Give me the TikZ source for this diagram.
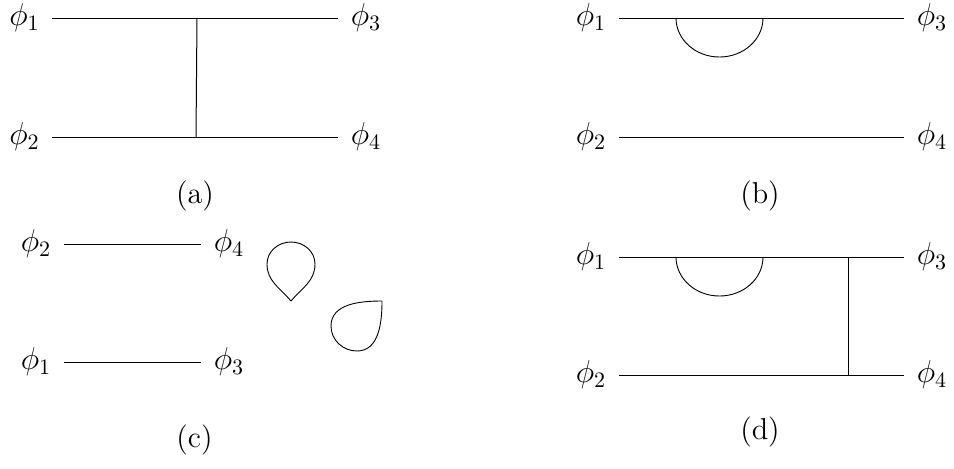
\documentclass[tikz,border=0pt]{standalone}
\usepackage{amsmath,amssymb}
\usepackage{tikz}
\usetikzlibrary{calc}

\begin{document}
\begin{tikzpicture}[x=0.5pt,y=0.5pt,font=\Large,line width=0.5pt,
    fld/.style={scale=1.1,inner sep=3.2pt,outer sep=2.5pt},
    subcap/.style={scale=1.05,inner sep=2pt},
    loopline/.style={line width=0.45pt}]
  \useasboundingbox (0,0) rectangle (954,-468);
  % (a)
  \node[fld] (a1) at (24.5,-18) {$\phi_1$};
  \node[fld] (a3) at (366,-18) {$\phi_3$};
  \node[fld] (a2) at (24.5,-137) {$\phi_2$};
  \node[fld] (a4) at (366,-137) {$\phi_4$};
  \draw (a1) -- (a3);
  \draw (a2) -- (a4);
  \coordinate (atop) at (197,-18);
  \coordinate (abot) at (196,-137);
  \draw (atop) -- (abot);
  \node[subcap] (capa) at (195,-196) {(a)};
  % (b)
  \node[fld] (b1) at (591,-18) {$\phi_1$};
  \node[fld] (b3) at (932,-18) {$\phi_3$};
  \node[fld] (b2) at (591,-137) {$\phi_2$};
  \node[fld] (b4) at (932,-137) {$\phi_4$};
  \draw (b1) -- (b3);
  \draw (b2) -- (b4);
  \coordinate (bself) at (676,-18);
  \draw[loopline] (bself) arc[start angle=180,end angle=360,x radius=21.75pt,y radius=19.5pt];
  \node[subcap] (capb) at (760,-196) {(b)};
  % (c)
  \node[fld] (c2) at (36,-244) {$\phi_2$};
  \node[fld] (c4) at (229,-244) {$\phi_4$};
  \node[fld] (c1) at (36,-362) {$\phi_1$};
  \node[fld] (c3) at (229,-362) {$\phi_3$};
  \draw (c2) -- (c4);
  \draw (c1) -- (c3);
  \coordinate (vac1) at (291,-301);
  \coordinate (vac2) at (382,-301);
  \draw[loopline] (vac1) to[out=130,in=270] (267,-264) to[out=90,in=180] (291,-242)
    to[out=0,in=90] (315,-264) to[out=270,in=50] (vac1);
  \draw[loopline] (vac2) to[out=180,in=90] (331,-326) to[out=270,in=180] (357,-351)
    to[out=0,in=270] (vac2);
  \node[subcap] (capc) at (194.5,-440) {(c)};
  % (d)
  \node[fld] (d1) at (591,-257) {$\phi_1$};
  \node[fld] (d3) at (932,-257) {$\phi_3$};
  \node[fld] (d2) at (591,-375) {$\phi_2$};
  \node[fld] (d4) at (932,-375) {$\phi_4$};
  \draw (d1) -- (d3);
  \draw (d2) -- (d4);
  \coordinate (dself) at (676,-257);
  \draw[loopline] (dself) arc[start angle=180,end angle=360,x radius=21.75pt,y radius=19.5pt];
  \coordinate (dtop) at (848,-257);
  \coordinate (dbot) at (848,-375);
  \draw (dtop) -- (dbot);
  \node[subcap] (capd) at (760,-432) {(d)};
\end{tikzpicture}
\end{document}
